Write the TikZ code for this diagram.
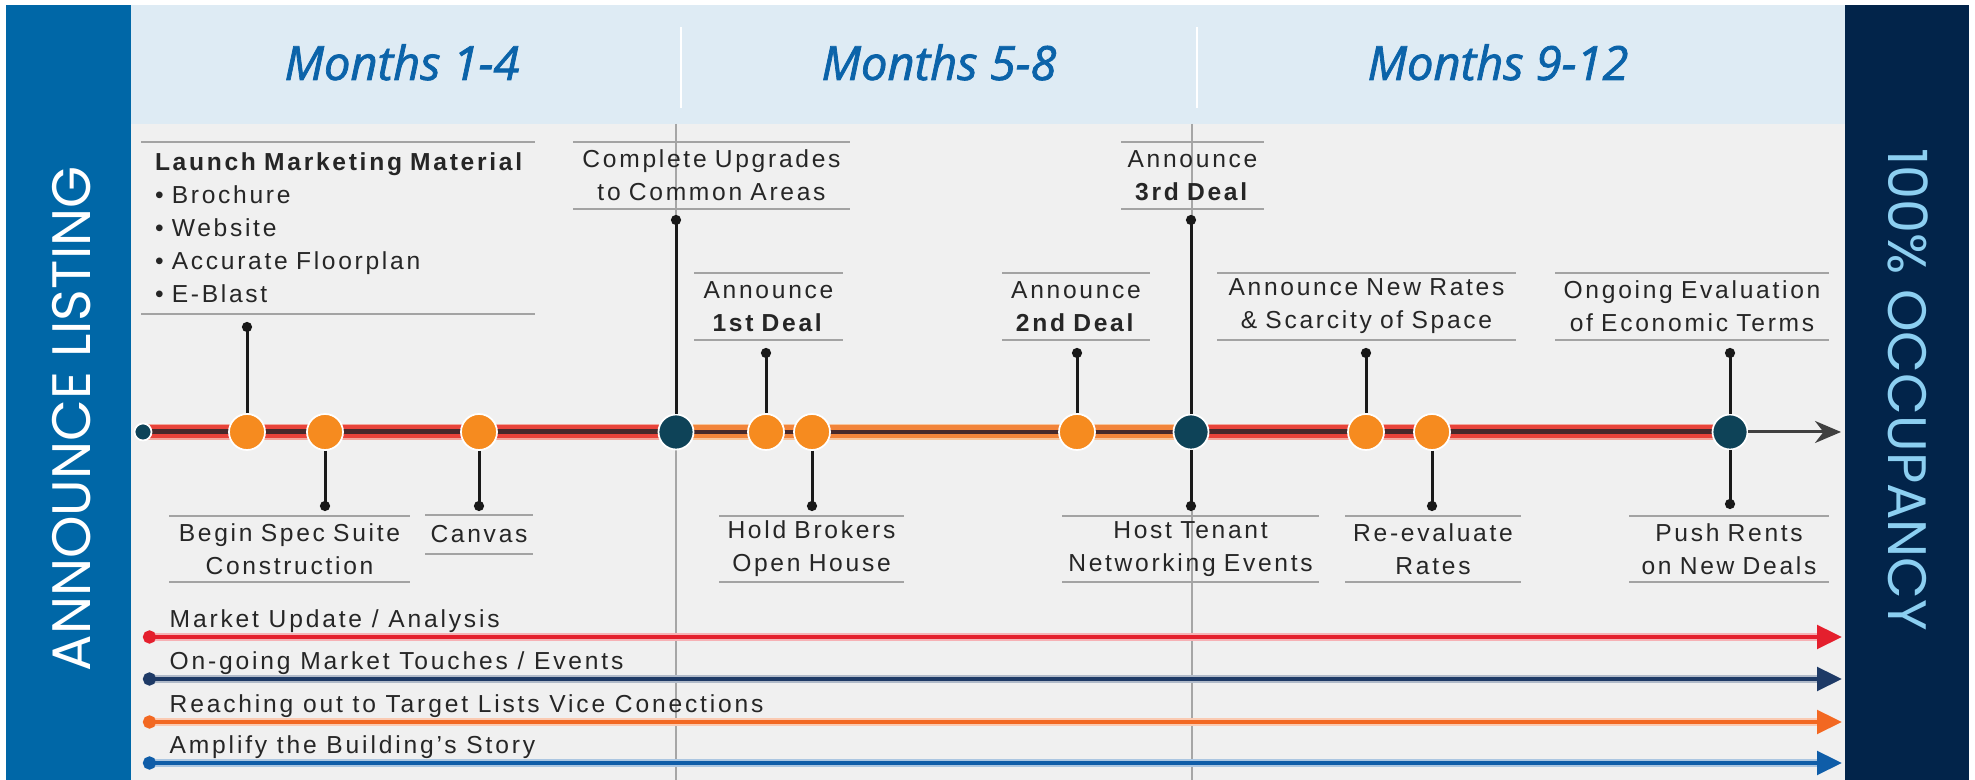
\documentclass[tikz,border=0pt]{standalone}
\usepackage{fontspec}
\setmainfont{Liberation Sans}
\newfontfamily\headfont{Open Sans}[FakeBold=1.6]
\newfontfamily\sidefont{Poppins}
\newfontfamily\tagfont{Liberation Sans}[LetterSpace=11]
\newfontfamily\lanefont{Liberation Sans}[LetterSpace=11.5]
\usetikzlibrary{arrows.meta,backgrounds}

\definecolor{sideblue}{HTML}{0067A7}
\definecolor{sidenavy}{HTML}{02244A}
\definecolor{headband}{HTML}{DEEBF4}
\definecolor{headtext}{HTML}{0B63A9}
\definecolor{mainbg}{HTML}{F0F0F0}
\definecolor{occtext}{HTML}{8CCFF1}
\definecolor{dotorange}{HTML}{F68B1F}
\definecolor{dotnavy}{HTML}{0E4358}
\definecolor{bandred}{HTML}{E8433A}
\definecolor{bandpink}{HTML}{F3A79C}
\definecolor{bandorange}{HTML}{F2843A}
\definecolor{bandpeach}{HTML}{F8C59C}
\definecolor{banddark}{HTML}{47292B}
\definecolor{rulegray}{HTML}{A3A3A3}
\definecolor{lanered}{HTML}{E41F2D}
\definecolor{lanenavy}{HTML}{1E3A66}
\definecolor{laneorange}{HTML}{F26822}
\definecolor{laneblue}{HTML}{0F5DA8}

\tikzset{
    redband/.style={draw=bandred, line width=1.3mm,
        preaction={draw=bandpink, line width=1.65mm},
        postaction={draw=banddark, line width=0.5mm}},
    orangeband/.style={draw=bandorange, line width=1.3mm,
        preaction={draw=bandpeach, line width=1.65mm},
        postaction={draw=banddark, line width=0.45mm}},
    dotO/.style={circle, fill=dotorange, draw=white, line width=0.5pt,
        minimum size=3.6mm, inner sep=0pt},
    dotN/.style={dotO, fill=dotnavy, minimum size=3.5mm},
    stem/.style={draw=black!90, line width=0.3mm, -{Circle[length=1mm]}},
    endarrow/.style={draw=black!75, line width=0.3mm, -{Stealth[length=2.6mm, width=2.2mm]}},
    rule/.style={draw=rulegray, line width=0.2mm},
    tag/.style={font=\tagfont\fontsize{7}{9.4}\selectfont, text=black!85,
        inner sep=0pt, align=center, minimum height=6.5mm},
    monthtitle/.style={font=\headfont\itshape\fontsize{13.4}{15}\selectfont,
        text=headtext, anchor=base, inner sep=0pt},
    sidetitle/.style={font=\sidefont\fontsize{15.4}{18}\selectfont, inner sep=0pt},
    lane/.style={draw=#1, line width=0.45mm,
        {Circle[length=1.3mm]}-{Triangle[length=2.5mm, width=2.3mm]},
        preaction={draw=#1!35, line width=0.75mm}},
    lanetext/.style={font=\lanefont\fontsize{7}{8}\selectfont, text=black!85,
        anchor=base west, inner sep=0pt}
}

\begin{document}
\begin{tikzpicture}[x=0.1mm, y=-0.1mm]
    \useasboundingbox (0,0) rectangle (1975,780);

    % Panels, header band and month dividers
    \begin{pgfonlayer}{background}
        \fill[white] (0,0) rectangle (1975,780);
        \fill[sideblue] (6,5) rectangle (131,780);
        \fill[headband] (131,5) rectangle (1845,124);
        \fill[mainbg] (131,124) rectangle (1845,780);
        \fill[sidenavy] (1845,5) rectangle (1969,780);
        \draw[white, line width=0.25mm] (681,27) -- (681,108) (1197,27) -- (1197,108);
        \draw[gray!70, line width=0.12mm] (676,124) -- (676,780) (1192,124) -- (1192,780);
    \end{pgfonlayer}

    % Side and header titles
    \node[sidetitle, white, rotate=90] (listing) at (72,419) {ANNOUNCE LISTING};
    \node[sidetitle, occtext, rotate=-90] (occupancy) at (1908,390) {100\% OCCUPANCY};
    \node[monthtitle] (months1) at (402,80) {Months 1-4};
    \node[monthtitle] (months2) at (939,80) {Months 5-8};
    \node[monthtitle] (months3) at (1498,80) {Months 9-12};

    % Milestones on the timeline
    \node[dotN, minimum size=1.7mm] (start) at (143,432) {};
    \node[dotO] (o1) at (247,432) {};
    \node[dotO] (o2) at (325,432) {};
    \node[dotO] (o3) at (479,432) {};
    \node[dotN] (n1) at (676,432) {};
    \node[dotO] (o4) at (766,432) {};
    \node[dotO] (o5) at (812,432) {};
    \node[dotO] (o6) at (1077,432) {};
    \node[dotN] (n2) at (1191,432) {};
    \node[dotO] (o7) at (1366,432) {};
    \node[dotO] (o8) at (1432,432) {};
    \node[dotN] (n3) at (1730,432) {};

    \begin{pgfonlayer}{background}
        \draw[redband] (start.center) -- (n1.center);
        \draw[orangeband] (n1.center) -- (n2.center);
        \draw[redband] (n2.center) -- (n3.center);
    \end{pgfonlayer}
    \coordinate (tip) at (1841,432);
    \draw[endarrow] (n3) -- (tip);

    % Labels above the timeline
    \node[tag, text width=36.6mm, inner xsep=1.3mm, align=left, minimum height=17mm] (launch) at (338,228)
        {\textbf{Launch Marketing Material}\\\textbullet{} Brochure\\\textbullet{} Website\\\textbullet{} Accurate Floorplan\\\textbullet{} E-Blast};
    \node[tag, text width=27.5mm] (upgrades) at (711.5,175.5) {Complete Upgrades\\to Common Areas};
    \node[tag, text width=14.7mm] (deal1) at (768.5,306.5) {Announce\\\textbf{1st Deal}};
    \node[tag, text width=14.6mm] (deal2) at (1076,306.5) {Announce\\\textbf{2nd Deal}};
    \node[tag, text width=14.1mm] (deal3) at (1192.5,175.5) {Announce\\\textbf{3rd Deal}};
    \node[tag, text width=29.7mm] (rates) at (1366.5,306.5) {Announce New Rates\\\& Scarcity of Space};
    \node[tag, text width=27.2mm] (terms) at (1692,306.5) {Ongoing Evaluation\\of Economic Terms};

    % Labels below the timeline
    \node[tag, text width=23.9mm] (spec) at (289.5,549) {Begin Spec Suite\\Construction};
    \node[tag, text width=10.6mm, minimum height=3.7mm] (canvas) at (479,534.5) {Canvas};
    \node[tag, text width=18.3mm] (brokers) at (811.5,549) {Hold Brokers\\Open House};
    \node[tag, text width=25.5mm] (tenant) at (1190.5,549) {Host Tenant\\Networking Events};
    \node[tag, text width=17.4mm] (reeval) at (1433,549) {Re-evaluate\\Rates};
    \node[tag, text width=19.8mm] (rents) at (1729,549) {Push Rents\\on New Deals};

    \foreach \t in {launch,upgrades,deal1,deal2,deal3,rates,terms,spec,canvas,brokers,tenant,reeval,rents}
        \draw[rule] (\t.north west) -- (\t.north east) (\t.south west) -- (\t.south east);

    % Stems from the milestones
    \coordinate (s1) at (247,322);
    \coordinate (s2) at (325,511);
    \coordinate (s3) at (479,511);
    \coordinate (s4) at (676,215);
    \coordinate (s5) at (766,348);
    \coordinate (s6) at (812,511);
    \coordinate (s7) at (1077,348);
    \coordinate (s8) at (1191,215);
    \coordinate (s9) at (1191,511);
    \coordinate (s10) at (1366,348);
    \coordinate (s11) at (1432,511);
    \coordinate (s12) at (1730,348);
    \coordinate (s13) at (1730,509);
    \foreach \d/\s in {o1/s1,o2/s2,o3/s3,n1/s4,o4/s5,o5/s6,o6/s7,n2/s8,n2/s9,o7/s10,o8/s11,n3/s12,n3/s13}
        \draw[stem] (\d) -- (\s);

    % Ongoing activities
    \foreach \y/\c/\t [count=\i] in {637/lanered/{Market Update / Analysis},
            679/lanenavy/{On-going Market Touches / Events},
            722/laneorange/{Reaching out to Target Lists Vice Conections},
            763/laneblue/{Amplify the Building’s Story}}{
        \coordinate (la\i) at (143,\y);
        \coordinate (lb\i) at (1842,\y);
        \draw[lane=\c] (la\i) -- (lb\i);
        \node[lanetext] (lt\i) at (169,\y-9) {\t};
    }
\end{tikzpicture}
\end{document}
